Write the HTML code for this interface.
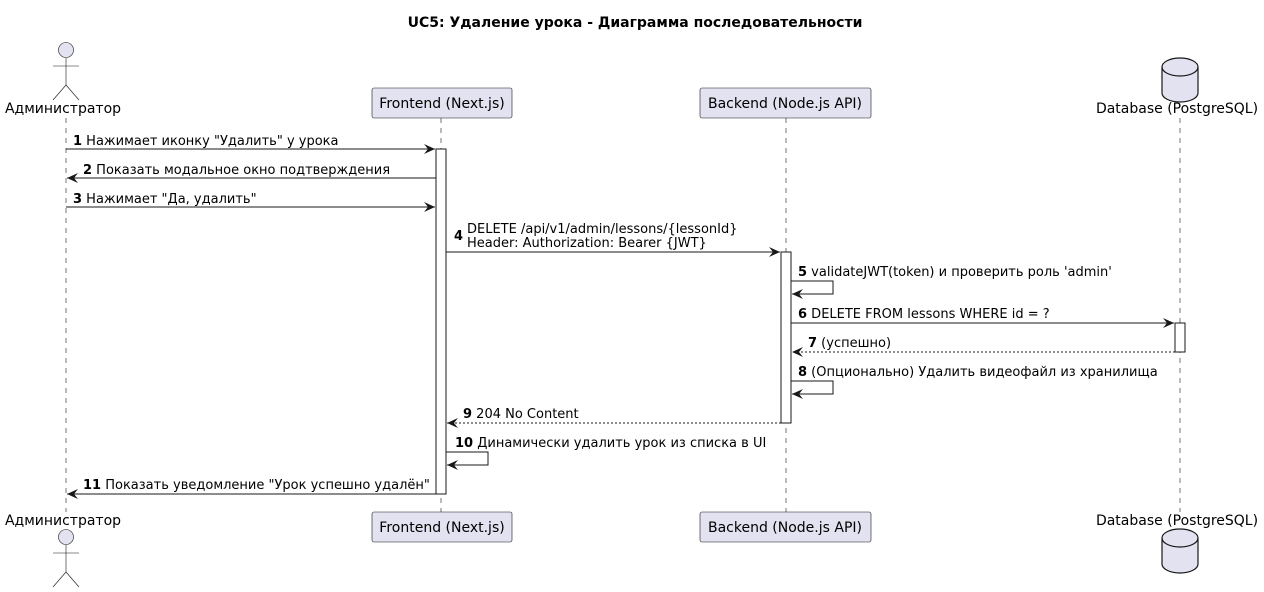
<!DOCTYPE html>
<html><head><meta charset="utf-8"><style>
html,body{margin:0;padding:0;background:#fff;width:1264px;height:592px;overflow:hidden}
text{font-family:"DejaVu Sans","Liberation Sans",sans-serif;font-size:13px;fill:#000}
.b{font-weight:bold}
.p{font-size:14px}
</style></head><body>
<svg width="1264" height="592" viewBox="0 0 1264 592" xmlns="http://www.w3.org/2000/svg">
<defs>
<marker id="ah" markerWidth="12" markerHeight="10" refX="11" refY="5" orient="auto" markerUnits="userSpaceOnUse">
<path d="M0,0 L11,5 L0,10 L4,5 Z" fill="#181818"/>
</marker>
</defs>
<text x="635" y="27" text-anchor="middle" class="b" style="font-size:14px">UC5: Удаление урока - Диаграмма последовательности</text>

<g stroke="#181818" stroke-width="0.6" stroke-dasharray="5,5">
<line x1="66" y1="118" x2="66" y2="512"/>
<line x1="441" y1="118" x2="441" y2="512"/>
<line x1="786" y1="118" x2="786" y2="512"/>
<line x1="1180" y1="118" x2="1180" y2="512"/>
</g>

<g stroke="#181818" stroke-width="0.6" fill="#E2E2F0">
<circle cx="66" cy="50" r="7.5"/>
<line x1="66" y1="58" x2="66" y2="85"/>
<line x1="53" y1="66" x2="79" y2="66"/>
<line x1="66" y1="85" x2="53" y2="100"/>
<line x1="66" y1="85" x2="79" y2="100"/>
</g>
<text x="63" y="113" text-anchor="middle" class="p">Администратор</text>
<g stroke="#181818" stroke-width="0.6" fill="#E2E2F0">
<circle cx="66" cy="537" r="7.5"/>
<line x1="66" y1="545" x2="66" y2="572"/>
<line x1="53" y1="553" x2="79" y2="553"/>
<line x1="66" y1="572" x2="53" y2="587"/>
<line x1="66" y1="572" x2="79" y2="587"/>
</g>
<text x="63" y="525" text-anchor="middle" class="p">Администратор</text>

<g fill="#E2E2F0" stroke="#181818" stroke-width="0.6">
<rect x="372" y="88" width="140" height="30" rx="2"/>
<rect x="700" y="88" width="171" height="30" rx="2"/>
<rect x="372" y="512" width="140" height="30" rx="2"/>
<rect x="700" y="512" width="171" height="30" rx="2"/>
</g>
<text x="442" y="108" text-anchor="middle" class="p">Frontend (Next.js)</text>
<text x="785" y="108" text-anchor="middle" class="p">Backend (Node.js API)</text>
<text x="442" y="532" text-anchor="middle" class="p">Frontend (Next.js)</text>
<text x="785" y="532" text-anchor="middle" class="p">Backend (Node.js API)</text>

<g fill="#E2E2F0" stroke="#181818" stroke-width="1.2">
<path d="M1162,67 A18,9 0 0 1 1198,67 L1198,93 A18,9 0 0 1 1162,93 Z"/>
<path d="M1162,67 A18,9 0 0 0 1198,67" fill="none"/>
<path d="M1162,538 A18,9 0 0 1 1198,538 L1198,564 A18,9 0 0 1 1162,564 Z"/>
<path d="M1162,538 A18,9 0 0 0 1198,538" fill="none"/>
</g>
<text x="1177" y="113" text-anchor="middle" class="p">Database (PostgreSQL)</text>
<text x="1177" y="525" text-anchor="middle" class="p">Database (PostgreSQL)</text>

<g fill="#fff" stroke="#181818" stroke-width="1">
<rect x="436" y="149" width="10" height="345"/>
<rect x="781" y="252" width="10" height="171"/>
<rect x="1175" y="323" width="10" height="29"/>
</g>

<g stroke="#181818" stroke-width="1" fill="none">
<line x1="66" y1="149" x2="435" y2="149" marker-end="url(#ah)"/>
<line x1="436" y1="178" x2="67" y2="178" marker-end="url(#ah)"/>
<line x1="66" y1="207" x2="435" y2="207" marker-end="url(#ah)"/>
<line x1="446" y1="252" x2="780" y2="252" marker-end="url(#ah)"/>
<polyline points="791,281 833,281 833,294 792,294" marker-end="url(#ah)"/>
<line x1="791" y1="323" x2="1174" y2="323" marker-end="url(#ah)"/>
<line x1="1175" y1="352" x2="792" y2="352" stroke-dasharray="2,2" marker-end="url(#ah)"/>
<polyline points="791,381 833,381 833,394 792,394" marker-end="url(#ah)"/>
<line x1="781" y1="423" x2="447" y2="423" stroke-dasharray="2,2" marker-end="url(#ah)"/>
<polyline points="446,452 488,452 488,465 447,465" marker-end="url(#ah)"/>
<line x1="436" y1="494" x2="67" y2="494" marker-end="url(#ah)"/>
</g>

<text x="73" y="145"><tspan class="b">1</tspan> Нажимает иконку "Удалить" у урока</text>
<text x="83" y="174"><tspan class="b">2</tspan> Показать модальное окно подтверждения</text>
<text x="73" y="203"><tspan class="b">3</tspan> Нажимает "Да, удалить"</text>
<text x="454" y="240" class="b">4</text>
<text x="467" y="233">DELETE /api/v1/admin/lessons/{lessonId}</text>
<text x="467" y="247">Header: Authorization: Bearer {JWT}</text>
<text x="798" y="276"><tspan class="b">5</tspan> validateJWT(token) и проверить роль 'admin'</text>
<text x="798" y="318"><tspan class="b">6</tspan> DELETE FROM lessons WHERE id = ?</text>
<text x="808" y="347"><tspan class="b">7</tspan> (успешно)</text>
<text x="798" y="376"><tspan class="b">8</tspan> (Опционально) Удалить видеофайл из хранилища</text>
<text x="463" y="418"><tspan class="b">9</tspan> 204 No Content</text>
<text x="455" y="447"><tspan class="b">10</tspan> Динамически удалить урок из списка в UI</text>
<text x="83" y="489"><tspan class="b">11</tspan> Показать уведомление "Урок успешно удалён"</text>
</svg>
</body></html>
